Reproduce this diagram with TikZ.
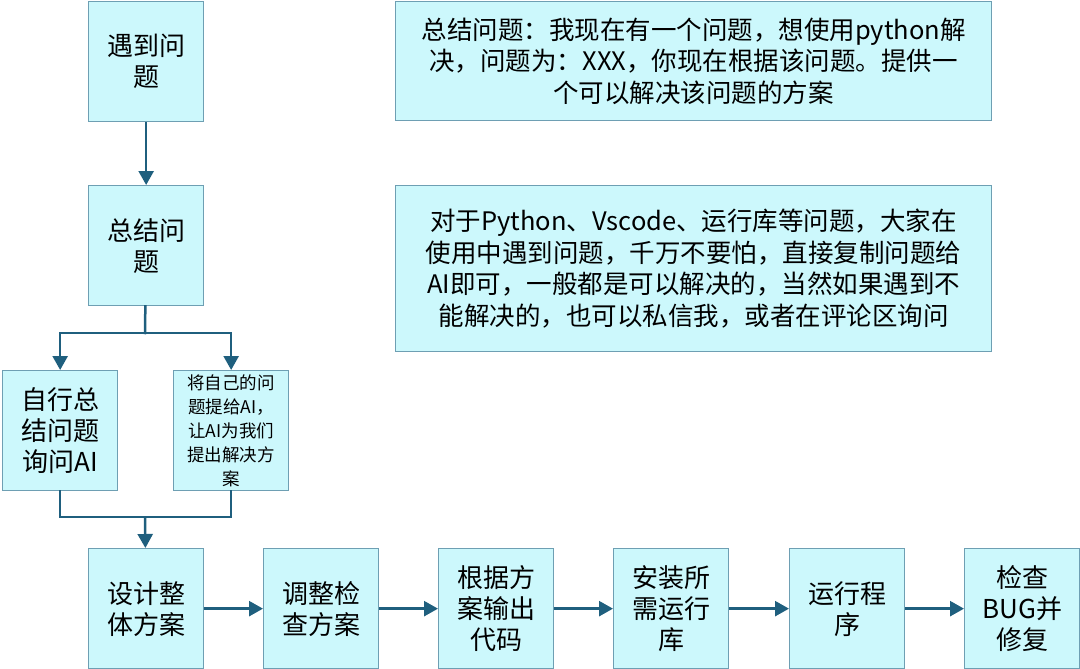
\documentclass[tikz,border=0pt]{standalone}
\usepackage{fontspec}
\setmainfont{Noto Sans CJK SC}
\usetikzlibrary{arrows.meta}
\definecolor{boxfill}{HTML}{CCF8FC}
\definecolor{boxline}{HTML}{6E9FB3}
\definecolor{arr}{HTML}{1F5F7E}
\begin{document}
\begin{tikzpicture}[x=1pt,y=-1pt,
  box/.style={draw=boxline,fill=boxfill,line width=1.3pt,minimum width=115pt,minimum height=120pt,inner sep=1pt,align=center,font=\fontsize{26}{31}\selectfont,anchor=north west},
  smallbox/.style={box,font=\fontsize{17.5}{24}\selectfont},
  note/.style={draw=boxline,fill=boxfill,line width=1.3pt,minimum width=596pt,inner sep=2pt,align=center,font=\fontsize{25.5}{31.5}\selectfont,anchor=north west},
  flow/.style={draw=arr,line width=2.5pt,-{Triangle[width=15pt,length=14pt]}},
  seg/.style={draw=arr,line width=2.5pt,line cap=rect,line join=miter}]
\useasboundingbox (0,0) rectangle (1080,669);
\node[box] (a) at (88,1) {遇到问\\题};
\node[box] (b) at (88,185) {总结问\\题};
\node[box] (c) at (2,370) {自行总\\结问题\\询问AI};
\node[smallbox] (d) at (173,370) {将自己的问\\题提给AI，\\让AI为我们\\提出解决方\\案};
\node[box] (e1) at (88,548) {设计整\\体方案};
\node[box] (e2) at (263,548) {调整检\\查方案};
\node[box] (e3) at (438,548) {根据方\\案输出\\代码};
\node[box] (e4) at (613,548) {安装所\\需运行\\库};
\node[box] (e5) at (789,548) {运行程\\序};
\node[box] (e6) at (964,548) {检查\\BUG并\\修复};
\node[note,minimum height=119pt] (n1) at (395,1) {总结问题：我现在有一个问题，想使用python解\\决，问题为：XXX，你现在根据该问题。提供一\\个可以解决该问题的方案};
\node[note,minimum height=166pt] (n2) at (395,185) {对于Python、Vscode、运行库等问题，大家在\\使用中遇到问题，千万不要怕，直接复制问题给\\AI即可，一般都是可以解决的，当然如果遇到不\\能解决的，也可以私信我，或者在评论区询问};
\coordinate (s) at (145,333);
\coordinate (m) at (145,517);
\draw[flow] (a) -- (b);
\draw[seg] (b) -- (s);
\draw[seg] (c.north |- s) -- (d.north |- s);
\draw[flow] (c.north |- s) -- (c);
\draw[flow] (d.north |- s) -- (d);
\draw[seg] (c.south) |- (m);
\draw[seg] (d.south) |- (m);
\draw[flow] (m) -- (e1);
\draw[flow] (e1) -- (e2);
\draw[flow] (e2) -- (e3);
\draw[flow] (e3) -- (e4);
\draw[flow] (e4) -- (e5);
\draw[flow] (e5) -- (e6);
\end{tikzpicture}
\end{document}
